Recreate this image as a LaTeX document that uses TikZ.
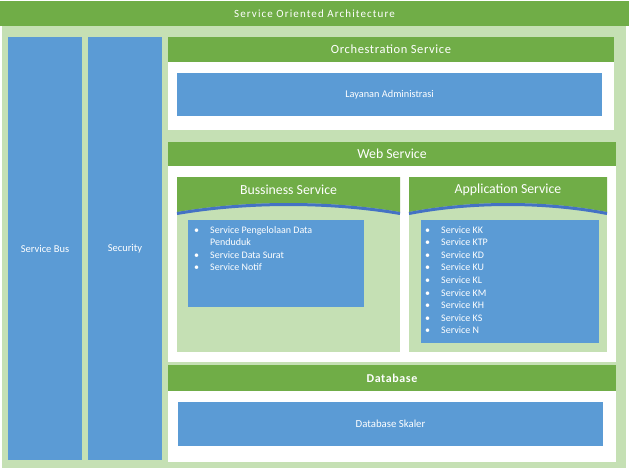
\documentclass[tikz,border=0pt]{standalone}
\usepackage{fontspec}
\setmainfont{Carlito}
\definecolor{soagreen}{HTML}{70AD47}
\definecolor{soalight}{HTML}{C5E0B4}
\definecolor{soablue}{HTML}{5B9BD5}
\definecolor{soadeep}{HTML}{4472C4}
\tikzset{
  area/.style n args={4}{anchor=north west, inner sep=0pt, outer sep=0pt,
    minimum width={(#3-#1)*1pt}, minimum height={(#4-#2)*1pt}, at={(#1,#2)}},
  greenbar/.style={fill=soagreen, text=white},
  bluebox/.style={fill=soablue, text=white},
  whitebox/.style={fill=white},
  lightbox/.style={fill=soalight},
  label/.style={text=white, inner sep=0pt},
  listtext/.style={text=white, anchor=north west, inner sep=0pt, align=left,
    font=\fontsize{10}{12.6}\selectfont},
}
\newcommand{\bul}{\makebox[16pt][l]{\textbullet}}
\begin{document}
\begin{tikzpicture}[x=1pt, y=-1pt]
  \useasboundingbox (0,0) rectangle (629,472);
  \fill[white] (0,0) rectangle (629,472);

  % outer frame and title bar
  \node[area={2}{26}{626}{468}, lightbox] (frame) {};
  \node[area={0}{1}{629}{26}, greenbar,
    font=\fontsize{11}{13}\selectfont\addfontfeatures{LetterSpace=10}] (soa) {Service Oriented Architecture};

  % vertical pillars
  \node[area={8}{37}{82}{460}, bluebox, font=\fontsize{10.5}{12}\selectfont] (bus) {Service Bus};
  \node[area={88}{37}{162}{460}, bluebox, font=\fontsize{10.5}{12}\selectfont] (security) {Security};

  % orchestration layer
  \node[area={168}{37}{614}{62}, greenbar,
    font=\fontsize{12.5}{14}\selectfont\addfontfeatures{LetterSpace=5}] (orch) {Orchestration Service};
  \node[area={168}{62}{614}{130}, whitebox] (orchbody) {};
  \node[area={177}{73}{602}{116}, bluebox, font=\fontsize{10.3}{12}\selectfont] (layanan) {Layanan Administrasi};

  % web service layer
  \node[area={168}{142}{616}{166}, greenbar, font=\fontsize{13.8}{15}\selectfont] (web) {Web Service};
  \node[area={168}{166}{616}{362}, whitebox] (webbody) {};

  % business service
  \node[area={177}{177}{400}{352}, lightbox] (biz) {};
  \fill[soagreen] (biz.north west) -- (biz.north east) -- (400,212)
    .. controls (330,200) and (247,200) .. (177,212) -- cycle;
  \draw[soadeep, line width=3pt] (177,213.5) .. controls (247,201.5) and (330,201.5) .. (400,213.5);
  \node[label, font=\fontsize{13.8}{15}\selectfont] (biztitle) at (288.5,190) {Bussiness Service};
  \node[area={188}{220}{364}{307}, bluebox] (bizbox) {};
  \node[listtext] (bizlist) at (194,224) {%
    \begin{tabular}{@{}l@{}l@{}}
      \bul & Service Pengelolaan Data\\
           & Penduduk\\
      \bul & Service Data Surat\\
      \bul & Service Notif
    \end{tabular}};

  % application service
  \node[area={409}{177}{607}{352}, lightbox] (app) {};
  \fill[soagreen] (app.north west) -- (app.north east) -- (607,212)
    .. controls (545,200) and (471,200) .. (409,212) -- cycle;
  \draw[soadeep, line width=3pt] (409,213.5) .. controls (471,201.5) and (545,201.5) .. (607,213.5);
  \node[label, font=\fontsize{13.8}{15}\selectfont] (apptitle) at (508,190) {Application Service};
  \node[area={421}{220}{599}{343}, bluebox] (appbox) {};
  \node[listtext] (applist) at (425,224) {%
    \begin{tabular}{@{}l@{}l@{}}
      \bul & Service KK\\
      \bul & Service KTP\\
      \bul & Service KD\\
      \bul & Service KU\\
      \bul & Service KL\\
      \bul & Service KM\\
      \bul & Service KH\\
      \bul & Service KS\\
      \bul & Service N
    \end{tabular}};

  % database layer
  \node[area={168}{365}{616}{391}, greenbar,
    font=\bfseries\fontsize{12}{14}\selectfont\addfontfeatures{LetterSpace=5}] (db) {Database};
  \node[area={168}{391}{616}{462}, whitebox] (dbbody) {};
  \node[area={178}{402}{603}{446}, bluebox, font=\fontsize{10.8}{12}\selectfont] (skaler) {Database Skaler};
\end{tikzpicture}
\end{document}
